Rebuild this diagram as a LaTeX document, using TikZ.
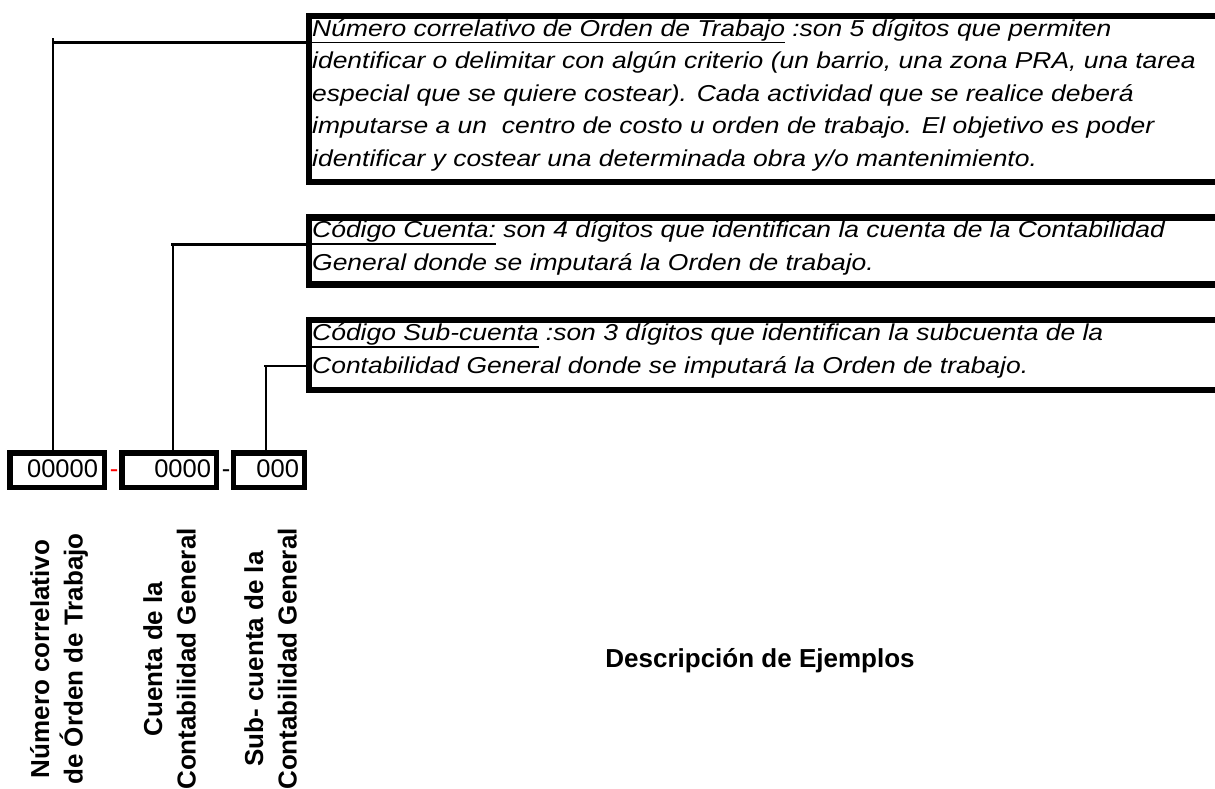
\documentclass[tikz,border=0pt]{standalone}
\usepackage{fontspec}
\setmainfont{Liberation Sans}
\newfontfamily\descfont[FakeStretch=1.15]{Liberation Sans}
\newcommand\myul[1]{\leavevmode\setbox0\hbox{#1}\rlap{\rule[-7pt]{\wd0}{1.8pt}}\box0\relax}
\tikzset{
  descbox/.style={draw, line width=6.5pt, inner sep=0pt, anchor=north west, minimum width=940pt},
  desctext/.style={anchor=base west, inner sep=0pt, font=\descfont\fontsize{23}{32.5}\selectfont\itshape},
  digbox/.style={draw, line width=5.5pt, minimum height=34.5pt, text height=14pt, text depth=0pt, align=right, font=\fontsize{25.5}{30}\selectfont},
  conn/.style={line width=2.2pt},
  vlabel/.style={rotate=90, anchor=base, inner sep=0pt, font=\fontsize{26}{33.5}\selectfont\bfseries},
  hyph/.style={anchor=base, inner sep=0pt, font=\fontsize{25.5}{30}\selectfont},
}
\begin{document}
\begin{tikzpicture}[x=1pt,y=-1pt]
\useasboundingbox[fill=white] (0,0) rectangle (1215,789);

% description boxes (open to the right, beyond the page)
\node[descbox, minimum height=165.5pt] (b1) at (305.5,13) {};
\node[descbox, minimum height=67pt] (b2) at (305.5,214) {};
\node[descbox, minimum height=70pt] (b3) at (305.5,316.5) {};

\node[desctext] (t1) at (312,36.5) {\parbox[t]{900pt}{\raggedright
\myul{Número correlativo de Orden de Trabajo} :son 5 dígitos que permiten\\
identificar o delimitar con algún criterio (un barrio, una zona PRA, una tarea\\
especial que se quiere costear). Cada actividad que se realice deberá\\
imputarse a un\ \ centro de costo u orden de trabajo. El objetivo es poder\\
identificar y costear una determinada obra y/o mantenimiento.}};

\node[desctext] (t2) at (312,237.5) {\parbox[t]{900pt}{\raggedright
\myul{Código Cuenta:} son 4 dígitos que identifican la cuenta de la Contabilidad\\
General donde se imputará la Orden de trabajo.}};

\node[desctext] (t3) at (312,340.5) {\parbox[t]{900pt}{\raggedright
\myul{Código Sub-cuenta} :son 3 dígitos que identifican la subcuenta de la\\
Contabilidad General donde se imputará la Orden de trabajo.}};

% digit boxes
\node[digbox, minimum width=94.5pt, text width=82pt, inner xsep=6.25pt] (d1) at (57,470) {00000};
\node[digbox, minimum width=94.5pt, text width=84pt, inner xsep=5.25pt] (d2) at (169,470) {0000};
\node[digbox, minimum width=70.8pt, text width=59.8pt, inner xsep=5.5pt] (d3) at (269.1,470) {000};

\node[hyph, text=red] (h1) at (114,477) {-};
\node[hyph] (h2) at (226,477) {-};

% connectors
\coordinate (k1) at (53,42.5);
\coordinate (k1t) at (53,38.5);
\draw[conn] (k1 -| b1.west) -- (k1);
\draw[conn] (k1t) -- (k1t |- d1.north);

\coordinate (k2) at (173,244.5);
\coordinate (k2l) at (171,244.5);
\draw[conn] (k2 -| b2.west) -- (k2l);
\draw[conn] (k2) -- (k2 |- d2.north);

\coordinate (k3) at (266,366);
\coordinate (k3l) at (263.5,366);
\draw[conn] (k3 -| b3.west) -- (k3l);
\draw[conn] (k3) -- (k3 |- d3.north);

% rotated labels
\node[vlabel] (l1) at (49,659) {\parbox[t]{320pt}{\centering Número correlativo\\de Órden de Trabajo}};
\node[vlabel] (l2) at (162,659) {\parbox[t]{320pt}{\centering Cuenta de la\\Contabilidad General}};
\node[vlabel] (l3) at (263,659) {\parbox[t]{320pt}{\centering Sub- cuenta de la\\Contabilidad General}};

\node[anchor=base, inner sep=0pt, font=\fontsize{26}{30}\selectfont\bfseries] (desc) at (760,667) {Descripción de Ejemplos};
\end{tikzpicture}
\end{document}
